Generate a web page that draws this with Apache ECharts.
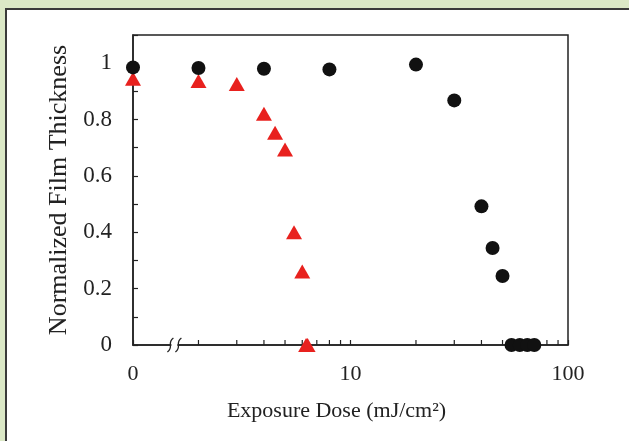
<!DOCTYPE html>
<html>
<head>
<meta charset="utf-8">
<script src="https://cdn.jsdelivr.net/npm/echarts@6/dist/echarts.min.js"></script>
<style>
  html, body { margin: 0; padding: 0; width: 629px; height: 441px; overflow: hidden; background: #dbe8c6; }
  #frame { position: absolute; left: 5px; top: 8px; width: 630px; height: 440px; background: #fff;
           border-left: 2px solid #3a3a3a; border-top: 2px solid #3a3a3a; }
  #chart { position: absolute; left: 0; top: 0; width: 629px; height: 441px; }
</style>
</head>
<body>
<div id="frame"></div>
<div id="chart"></div>
<script>
// dose 0 sits on the broken axis origin (plotted at 1 on the log scale)
const BREAK_ORIGIN = 1;
const BREAK_MARK_AT = 1.55;

const triangleDose = [0, 2, 3, 4, 4.5, 5, 5.5, 6, 6.25, 6.35];
const triangleThickness = [0.945, 0.937, 0.926, 0.821, 0.753, 0.694, 0.40, 0.261, 0, 0];

const circleDose = [0, 2, 4, 8, 20, 30, 40, 45, 50, 55, 60, 65, 70];
const circleThickness = [0.985, 0.983, 0.98, 0.978, 0.995, 0.868, 0.492, 0.344, 0.245, 0, 0, 0, 0];

const xMinorTicks = [2, 3, 4, 5, 6, 7, 8, 9, 20, 30, 40, 50, 60, 70, 80, 90];

const FONT = "Liberation Serif";
const INK = "#222";

const toPoints = (doses, values) =>
  doses.map((d, i) => [d === 0 ? BREAK_ORIGIN : d, values[i]]);

const chart = echarts.init(document.getElementById("chart"));

chart.setOption({
  animation: false,
  grid: {
    left: 133, top: 35, right: 61, bottom: 96,
    show: true, borderColor: INK, borderWidth: 1.5, backgroundColor: "transparent",
  },
  xAxis: {
    type: "log",
    logBase: 10,
    min: 1,
    max: 100,
    name: "Exposure Dose (mJ/cm²)",
    nameLocation: "middle",
    nameGap: 55,
    nameTextStyle: { fontFamily: FONT, fontSize: 22, color: INK, padding: [0, 28, 0, 0] },
    axisLine: { lineStyle: { color: INK, width: 1.5 } },
    axisTick: { inside: true, length: 5, lineStyle: { color: INK, width: 1.2 } },
    splitLine: { show: false },
    axisLabel: {
      fontFamily: FONT, fontSize: 22, color: INK, margin: 18,
      formatter: (v) => (Math.abs(v - BREAK_ORIGIN) < 1e-9 ? "0" : String(v)),
    },
  },
  yAxis: {
    type: "value",
    min: 0,
    max: 1.1,
    interval: 0.1,
    name: "Normalized Film Thickness",
    nameLocation: "middle",
    nameGap: 57,
    nameTextStyle: { fontFamily: FONT, fontSize: 26, color: INK },
    axisLine: { lineStyle: { color: INK, width: 1.5 } },
    axisTick: { inside: true, length: 5, lineStyle: { color: INK, width: 1.2 } },
    splitLine: { show: false },
    axisLabel: {
      fontFamily: FONT, fontSize: 23, color: INK, margin: 21,
      formatter: (v) => {
        const k = Math.round(v * 10);
        return k % 2 === 0 && k <= 10 ? String(k / 10) : "";
      },
    },
  },
  series: [
    {
      type: "custom",
      silent: true,
      clip: false,
      z: 3,
      data: xMinorTicks.map((v) => [v, 0]),
      renderItem: (params, api) => {
        const p = api.coord([api.value(0), api.value(1)]);
        return {
          type: "line",
          shape: { x1: p[0], y1: p[1], x2: p[0], y2: p[1] - 5 },
          style: { stroke: INK, lineWidth: 1.2 },
        };
      },
    },
    {
      type: "custom",
      silent: true,
      clip: false,
      z: 4,
      data: [[BREAK_MARK_AT, 0]],
      renderItem: (params, api) => {
        const p = api.coord([api.value(0), api.value(1)]);
        const x = p[0], y = p[1];
        const wave = (cx) =>
          `M${cx + 3} ${y - 7} C${cx - 4} ${y - 2} ${cx + 4} ${y + 2} ${cx - 3} ${y + 7}`;
        return {
          type: "group",
          children: [
            { type: "rect", shape: { x: x - 3, y: y - 2, width: 6, height: 4 }, style: { fill: "#fff" } },
            {
              type: "path",
              shape: { pathData: wave(x - 4) + " " + wave(x + 4) },
              style: { fill: null, stroke: INK, lineWidth: 1.3 },
            },
          ],
        };
      },
    },
    {
      name: "triangles",
      type: "scatter",
      symbol: "triangle",
      symbolSize: [16, 14],
      z: 5,
      itemStyle: { color: "#e8211e", opacity: 1 },
      data: toPoints(triangleDose, triangleThickness),
    },
    {
      name: "circles",
      type: "scatter",
      symbol: "circle",
      symbolSize: 14,
      z: 6,
      itemStyle: { color: "#111", opacity: 1 },
      data: toPoints(circleDose, circleThickness),
    },
  ],
});
</script>
</body>
</html>
